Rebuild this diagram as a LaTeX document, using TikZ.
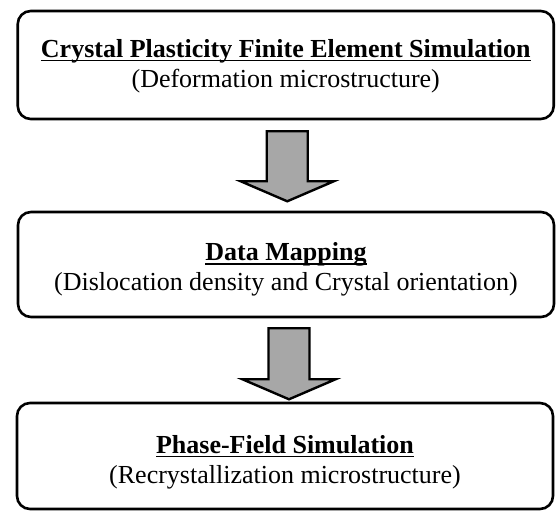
\documentclass[tikz,border=0pt]{standalone}
\usepackage{fontspec}
\setmainfont{Liberation Serif}
\usetikzlibrary{calc}
\newcommand\heading[1]{\setbox0\hbox{\textbf{#1}}\rlap{\rule[-3.8pt]{\wd0}{1.3pt}}\box0}
\tikzset{
  stagebox/.style={draw=black, line width=2.6pt, rounded corners=13pt, fill=white,
    minimum width=536pt, inner sep=0pt},
  stagetext/.style={align=center, inner sep=0pt,
    font=\fontsize{26}{30}\selectfont},
  bigarrow/.style={draw=black, line width=2.4pt, fill=gray!85!black!60, line join=miter}
}
\begin{document}
\begin{tikzpicture}[x=1pt,y=1pt]
\useasboundingbox (0,0) rectangle (558,511);
\node[stagebox, minimum height=108pt] (b1) at (285.75,446) {};
\node[stagebox, minimum height=105pt] (b2) at (286,246.5) {};
\node[stagebox, minimum height=106pt] (b3) at (285,55) {};
\node[stagetext] (t1) at ($(b1.center)+(0,-1)$) {\heading{Crystal Plasticity Finite Element Simulation}\\(Deformation microstructure)};
\node[stagetext] (t2) at ($(b2.center)+(0,-5)$) {\heading{Data Mapping}\\(Dislocation density and Crystal orientation)};
\node[stagetext] (t3) at ($(b3.center)+(0,-6)$) {\heading{Phase-Field Simulation}\\(Recrystallization microstructure)};
\draw[bigarrow, shift={($(b1.south)+(1.5,-11)$)}]
  (-20.5,0) -- (20.5,0) -- (20.5,-50) -- (46.5,-50) -- (0,-70) -- (-46.5,-50) -- (-20.5,-50) -- cycle;
\draw[bigarrow, shift={($(b2.south)+(3,-10)$)}]
  (-20.5,0) -- (20.5,0) -- (20.5,-51) -- (46.5,-51) -- (0,-71) -- (-46.5,-51) -- (-20.5,-51) -- cycle;
\end{tikzpicture}
\end{document}
